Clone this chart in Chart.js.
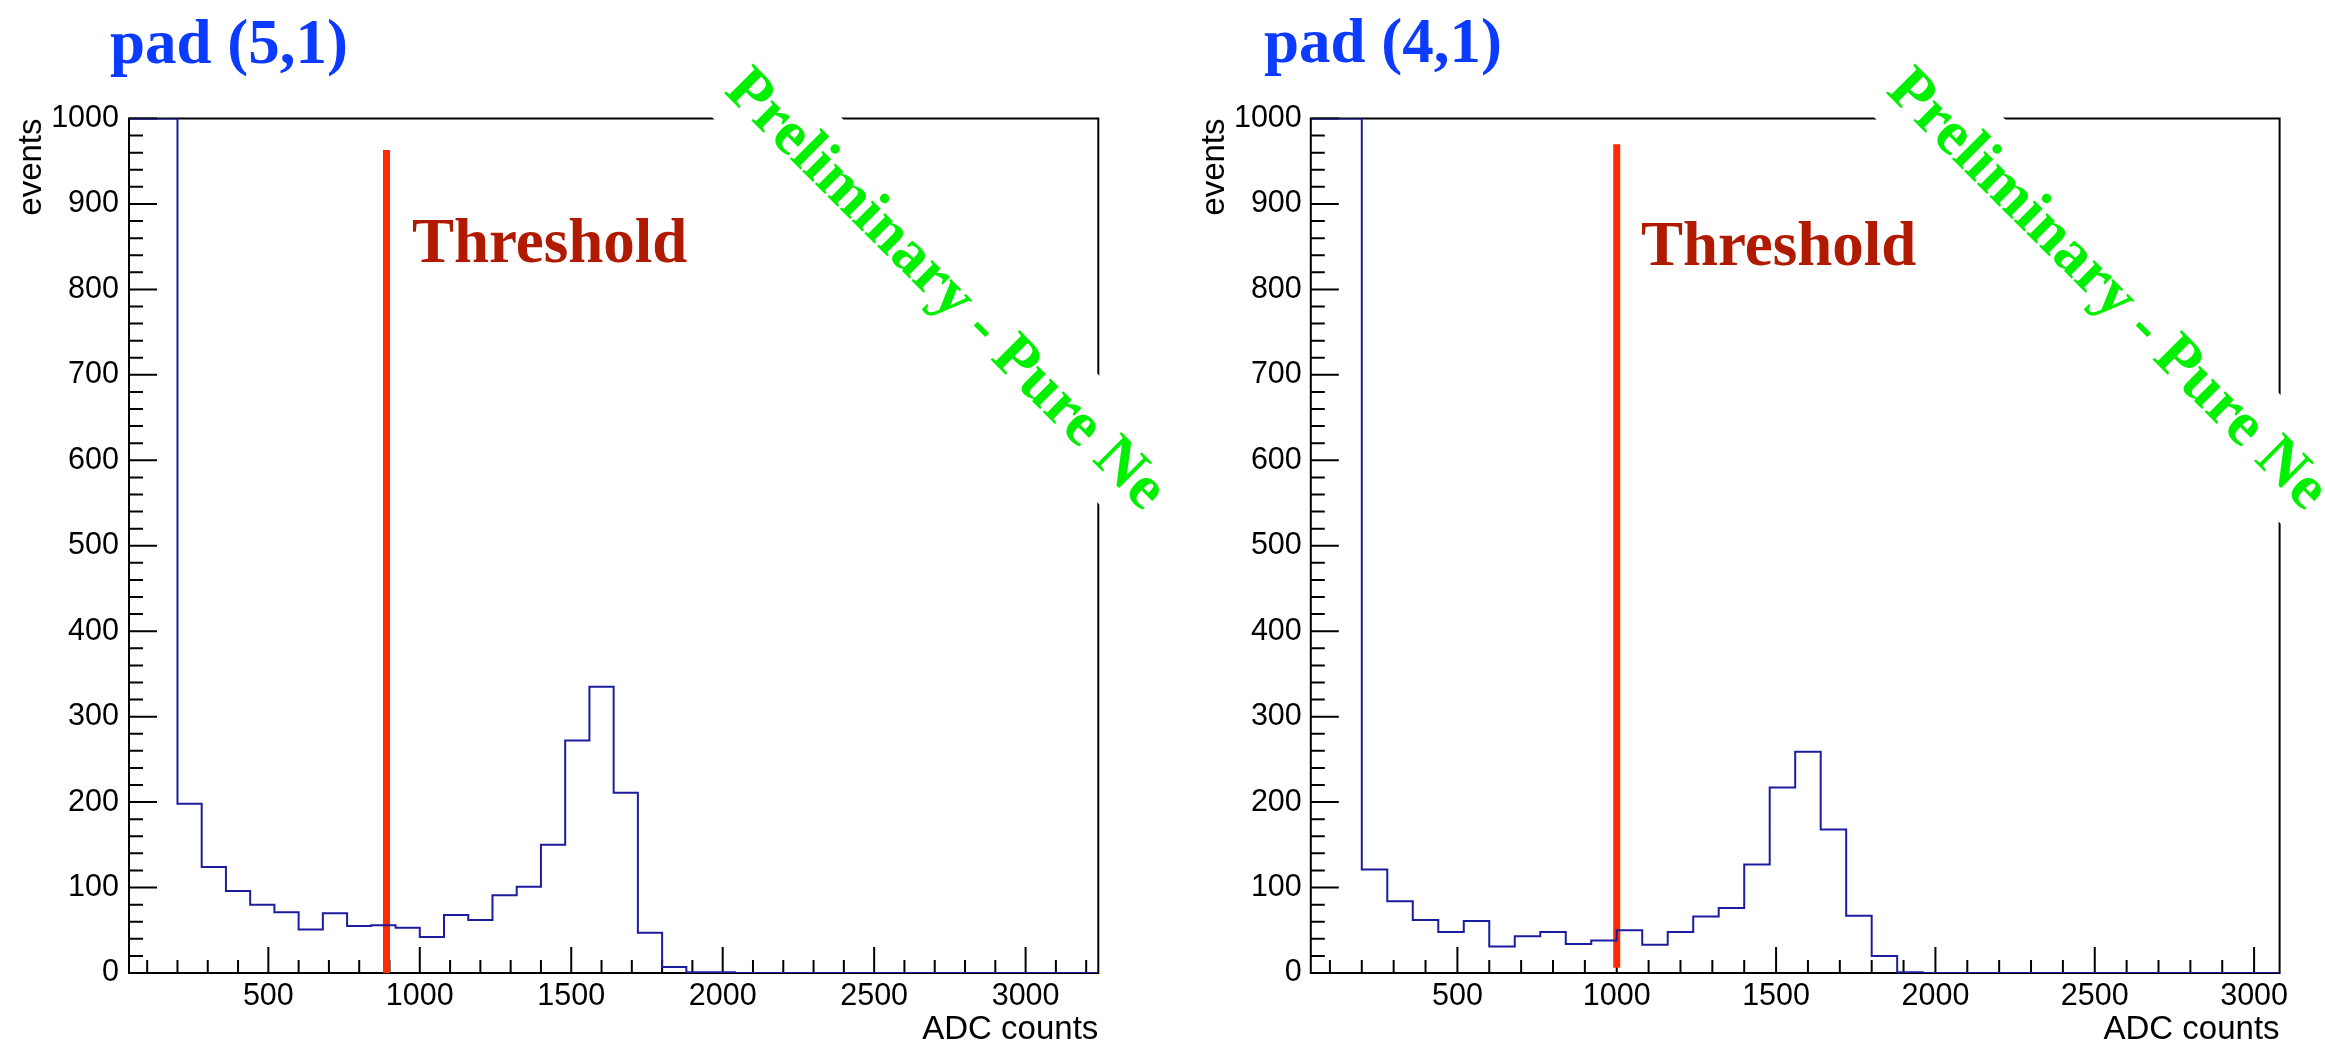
<!DOCTYPE html>
<html>
<head>
<meta charset="utf-8">
<script src="https://cdn.jsdelivr.net/npm/chart.js@4.4.0/dist/chart.umd.min.js"></script>
<style>
html, body { margin: 0; padding: 0; background: #fff; overflow: hidden; }
canvas { position: absolute; top: 0; }
#pad51 { left: 0; }
#pad41 { left: 1162px; }
</style>
</head>
<body>
<canvas id="pad51" width="1180" height="1047"></canvas>
<canvas id="pad41" width="1163" height="1047"></canvas>
<script>
// ADC bin edges, 80 counts per bin
const adcEdges = [40, 120, 200, 280, 360, 440, 520, 600, 680, 760, 840, 920, 1000, 1080, 1160, 1240,
  1320, 1400, 1480, 1560, 1640, 1720, 1800, 1880, 1960, 2040, 2120, 2200, 2280, 2360, 2440, 2520,
  2600, 2680, 2760, 2840, 2920, 3000, 3080, 3160, 3240];

// events per bin (first two bins run off the top of the frame)
const countsPad51 = [1000, 1000, 198, 124, 96, 80, 71, 51, 70, 55, 56, 53, 42, 68, 62, 91, 101,
  150, 272, 335, 211, 47, 7, 1, 1, 0, 0, 0, 0, 0, 0, 0, 0, 0, 0, 0, 0, 0, 0, 0];
const countsPad41 = [1000, 1000, 121, 84, 62, 48, 61, 31, 43, 48, 34, 38, 50, 33, 48, 66, 76,
  127, 217, 259, 168, 67, 20, 1, 0, 0, 0, 0, 0, 0, 0, 0, 0, 0, 0, 0, 0, 0];

// threshold line: adc, events from, events to
const thresholdPad51 = [890, 0, 963];
const thresholdPad41 = [1000, 6, 970];

const xTickLabels = [500, 1000, 1500, 2000, 2500, 3000];
const yTickLabels = [0, 100, 200, 300, 400, 500, 600, 700, 800, 900, 1000];

Chart.defaults.font.family = '"Liberation Sans", sans-serif';
Chart.defaults.color = '#000';

function histPoints(counts) {
  let pts = counts.map((c, i) => ({x: adcEdges[i], y: c}));
  pts.push({x: adcEdges[counts.length], y: counts[counts.length - 1]});
  return pts;
}

const rootDecor = {
  id: 'rootDecor',
  beforeDatasetsDraw(chart, args, o) {
    const {ctx, chartArea: a, scales: {x, y}} = chart;
    ctx.save();
    ctx.strokeStyle = '#000';
    ctx.lineWidth = 2;
    ctx.beginPath();
    // ROOT style inward ticks
    for (let v = 100; v <= x.max; v += 100) {
      let px = x.getPixelForValue(v);
      let len = v % 500 === 0 ? 26 : 13;
      ctx.moveTo(px, a.bottom);
      ctx.lineTo(px, a.bottom - len);
    }
    for (let v = 0; v <= y.max; v += 20) {
      let py = y.getPixelForValue(v);
      let len = v % 100 === 0 ? 28 : 14;
      ctx.moveTo(a.left, py);
      ctx.lineTo(a.left + len, py);
    }
    ctx.stroke();
    ctx.strokeRect(a.left, a.top, a.right - a.left, a.bottom - a.top);
    ctx.restore();
  },
  afterDraw(chart, args, o) {
    const {ctx, scales: {x, y}} = chart;
    ctx.save();
    ctx.font = 'bold 63px "Liberation Serif"';
    ctx.textAlign = 'left';
    ctx.textBaseline = 'alphabetic';
    ctx.fillStyle = '#0b3bff';
    ctx.fillText(o.title, o.titleX, o.titleY);
    ctx.fillStyle = '#b01a00';
    ctx.fillText('Threshold', x.getPixelForValue(o.labelAt[0]), y.getPixelForValue(o.labelAt[1]));
    ctx.translate(723, 92);
    ctx.rotate(Math.PI / 4);
    ctx.fillStyle = '#fff';
    ctx.fillRect(-10, -65.5, 622, 91);
    ctx.fillStyle = '#00f000';
    ctx.fillText('Preliminary - Pure Ne', 0, 0);
    ctx.restore();
  }
};

function makePad(id, counts, threshold, xMax, p) {
  return new Chart(document.getElementById(id), {
    type: 'line',
    data: {
      datasets: [{
        data: histPoints(counts),
        stepped: 'before',
        borderColor: '#1c1ca0',
        borderWidth: 2,
        pointRadius: 0,
        fill: false
      }, {
        data: [{x: threshold[0], y: threshold[1]}, {x: threshold[0], y: threshold[2]}],
        borderColor: '#ff2a00',
        borderWidth: 7,
        pointRadius: 0,
        fill: false
      }]
    },
    options: {
      responsive: false,
      animation: false,
      devicePixelRatio: 1,
      events: [],
      layout: {padding: {top: 118.5, left: 0, right: p.right, bottom: 0}},
      plugins: {
        legend: {display: false},
        tooltip: {enabled: false},
        rootDecor: {title: p.title, titleX: p.titleX, titleY: p.titleY, labelAt: p.labelAt}
      },
      scales: {
        x: {
          type: 'linear',
          min: 40,
          max: xMax,
          grid: {display: false, drawTicks: false},
          border: {display: false},
          afterBuildTicks: s => { s.ticks = xTickLabels.map(v => ({value: v})); },
          afterFit: s => { s.height = 74; },
          ticks: {
            callback: v => String(v),
            font: {size: 30.5, lineHeight: 1},
            padding: 8.5,
            maxRotation: 0,
            autoSkip: false
          },
          title: {
            display: true,
            text: 'ADC counts',
            align: 'end',
            font: {size: 33, lineHeight: 1},
            padding: {top: 0, bottom: 0.2}
          }
        },
        y: {
          type: 'linear',
          min: 0,
          max: 1000,
          grid: {display: false, drawTicks: false},
          border: {display: false},
          afterBuildTicks: s => { s.ticks = yTickLabels.map(v => ({value: v})); },
          afterFit: s => { s.width = p.left; },
          ticks: {
            callback: v => String(v),
            font: {size: 30.5, lineHeight: 1},
            padding: p.tickPad,
            autoSkip: false
          },
          title: {
            display: true,
            text: 'events',
            align: 'end',
            font: {size: 33, lineHeight: 1},
            padding: {top: p.yTitlePad, bottom: 0}
          }
        }
      }
    },
    plugins: [rootDecor]
  });
}

makePad('pad51', countsPad51, thresholdPad51, 3240,
  {left: 129, right: 81.7, tickPad: 10, yTitlePad: 15.4, title: 'pad (5,1)', titleX: 110, titleY: 62.7, labelAt: [974, 832]});
makePad('pad41', countsPad41, thresholdPad41, 3080,
  {left: 148.8, right: 45.4, tickPad: 9, yTitlePad: 36.5, title: 'pad (4,1)', titleX: 102, titleY: 61.5, labelAt: [1076, 828.5]});
</script>
</body>
</html>
